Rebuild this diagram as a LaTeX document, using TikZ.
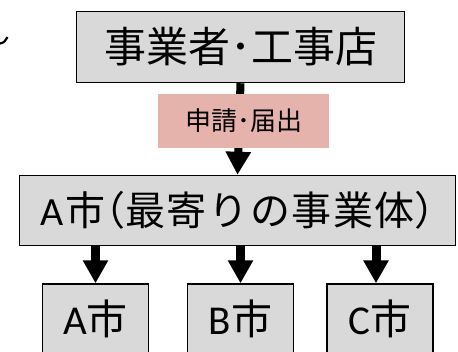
\documentclass[tikz,border=0pt]{standalone}
\usepackage{fontspec}
\setmainfont{Noto Sans CJK JP}
\newfontfamily\latinfont{Carlito}
\newfontfamily\narrowparen[RawFeature=+halt]{Noto Sans CJK JP}
\usepackage{xcolor}
\usepackage{tikz}
\usetikzlibrary{positioning,arrows.meta}
\pgfdeclarelayer{background}
\pgfsetlayers{background,main}
\definecolor{boxgray}{RGB}{217,217,217}
\definecolor{notepink}{RGB}{230,178,172}

\begin{document}
\begin{tikzpicture}[x=1pt,y=-1pt,
        office/.style={draw,line width=1.5pt,fill=boxgray,inner sep=0pt},
        flow/.style={line width=8pt,-{Triangle[width=24pt,length=23pt]}}]
            \clip (0,0) rectangle (458,351);
            \useasboundingbox (0,0) rectangle (458,351);

            \draw[line width=2.2pt] (0,43.5) .. controls (4,42.5) .. (7.5,37);

            \node[office,minimum width=328pt,minimum height=71pt,font=\fontsize{42}{44}\selectfont] (firm) at (240.5,47) {事業者･工事店};

            \node[fill=notepink,inner sep=0pt,minimum width=171pt,minimum height=54pt,font=\fontsize{26}{28}\selectfont] (apply) at (243.5,121) {申請･届出};

            \node[office,minimum width=436pt,minimum height=70pt,font=\fontsize{40}{42}\selectfont\addfontfeatures{LetterSpace=4}] (hub) at (237.5,210.5) {{\latinfont A}\kern2pt 市{\narrowparen （}最寄りの事業体{\narrowparen ）}};

            \node[office,minimum width=106pt,minimum height=70pt,font=\fontsize{41}{43}\selectfont] (cityA) at (95.5,319) {{\latinfont A}市};
            \node[office,minimum width=106pt,minimum height=70pt,font=\fontsize{41}{43}\selectfont] (cityB) at (240.5,319) {{\latinfont B}市};
            \node[office,minimum width=106pt,minimum height=70pt,font=\fontsize{41}{43}\selectfont] (cityC) at (380,319) {{\latinfont C}市};

            \begin{pgfonlayer}{background}
                \draw[flow] (firm.south) -- (hub.north);
                \draw[flow,line width=9pt] (hub.south -| cityA.north) -- (cityA.north);
                \draw[flow,line width=9pt] (hub.south -| cityB.north) -- (cityB.north);
                \draw[flow,line width=9pt] ([xshift=-4pt]hub.south -| cityC.north) -- ([xshift=-4pt]cityC.north);
            \end{pgfonlayer}
        \end{tikzpicture}
\end{document}
